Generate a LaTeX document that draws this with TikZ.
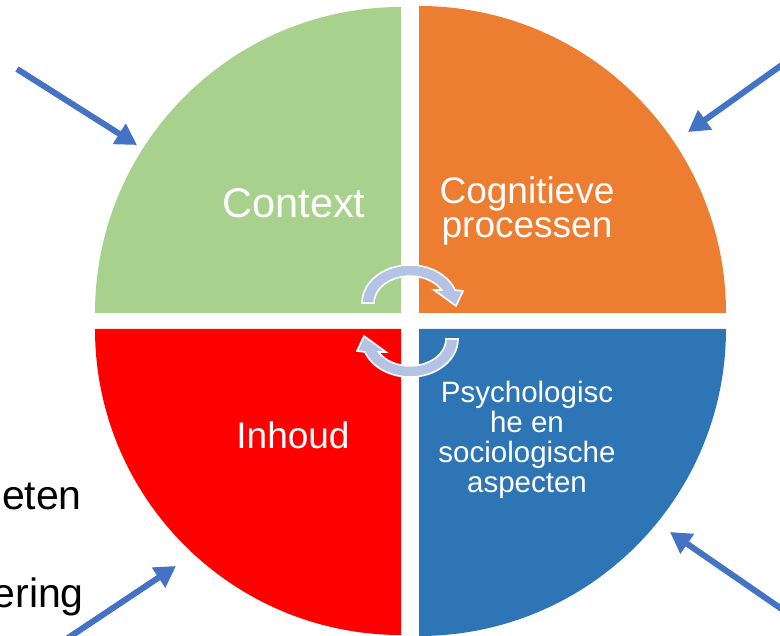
\documentclass[tikz,border=0pt]{standalone}
\usepackage{fontspec}
\setmainfont{Liberation Sans}
\usetikzlibrary{arrows.meta}
\definecolor{qgreen}{HTML}{A9D18E}
\definecolor{qorange}{HTML}{ED7D31}
\definecolor{qred}{HTML}{FF0000}
\definecolor{qblue}{HTML}{2E75B6}
\definecolor{parrow}{HTML}{4472C4}
\definecolor{cyc}{HTML}{B4C3E3}
\begin{document}
\begin{tikzpicture}[x=1pt,y=-1pt,
  quad/.style={draw=none},
  lbl/.style={text=white, inner sep=0pt, align=center},
  side/.style={text=black, inner sep=0pt, font=\fontsize{41}{44}\selectfont},
  pointer/.style={draw=parrow, line width=6pt, -{Triangle[length=21pt,width=23pt]}},
  cycarrow/.style={fill=cyc, draw=white, line width=1.6pt, line join=miter}]
\useasboundingbox (0,0) rectangle (780,636);
\clip (0,0) rectangle (780,636);
% quadrants
\fill[qgreen,quad] (401,313) -- (95,313) arc[start angle=180,end angle=270,radius=306] -- cycle;
\fill[qorange,quad] (419,313) -- (419,6) arc[start angle=270,end angle=360,radius=307] -- cycle;
\fill[qblue,quad] (419,329) -- (726,329) arc[start angle=0,end angle=90,radius=307] -- cycle;
\fill[qred,quad] (401,329) -- (401,635) arc[start angle=90,end angle=180,radius=306] -- cycle;
% labels
\node[lbl, anchor=base, font=\fontsize{41.5}{44}\selectfont] (context) at (294,218) {Context};
\node[lbl, anchor=center, font=\fontsize{37}{34.5}\selectfont] (cogn) at (527,211) {Cognitieve\\processen};
\node[lbl, anchor=base, font=\fontsize{37}{40}\selectfont] (inhoud) at (293,449) {Inhoud};
\node[lbl, anchor=center, font=\fontsize{29.5}{30}\selectfont] (psy) at (527,440) {Psychologisc\\he en\\sociologische\\aspecten};
\node[side, anchor=base east] (eten) at (82,510) {eten};
\node[side, anchor=base east] (ering) at (84,607) {ering};
% cycle arrows
\path[cycarrow] (362,303) arc[start angle=180,end angle=340,x radius=48,y radius=38]
  -- (463,291) -- (456,306) -- (434,290) -- (441.5,290)
  arc[start angle=331,end angle=180,x radius=36,y radius=27] -- cycle;
\begin{scope}[rotate around={180:(410,321)}]
\path[cycarrow] (362,303) arc[start angle=180,end angle=340,x radius=48,y radius=38]
  -- (463,291) -- (456,306) -- (434,290) -- (441.5,290)
  arc[start angle=331,end angle=180,x radius=36,y radius=27] -- cycle;
\end{scope}
% pointer arrows
\coordinate (a1s) at (17,69);  \coordinate (a1e) at (137,145);
\coordinate (a2s) at (786,62); \coordinate (a2e) at (688,132);
\coordinate (a3s) at (786,612); \coordinate (a3e) at (670,532);
\coordinate (a4s) at (62,642); \coordinate (a4e) at (176,566);
\draw[pointer] (a1s) -- (a1e);
\draw[pointer] (a2s) -- (a2e);
\draw[pointer] (a3s) -- (a3e);
\draw[pointer] (a4s) -- (a4e);
\end{tikzpicture}
\end{document}
